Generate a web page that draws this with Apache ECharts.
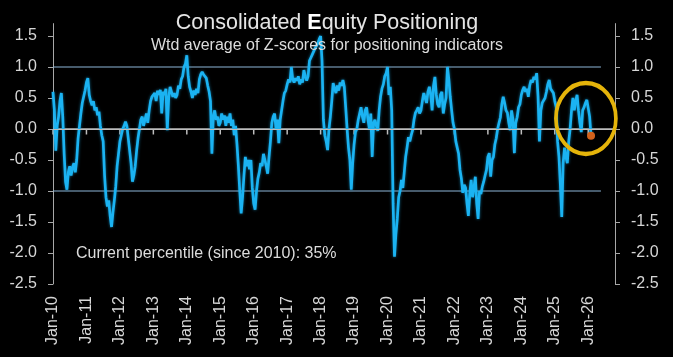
<!DOCTYPE html>
<html><head><meta charset="utf-8">
<script src="https://cdn.jsdelivr.net/npm/echarts@6/dist/echarts.min.js"></script>
<style>html,body{margin:0;padding:0;background:#000;}#c{width:673px;height:357px;}</style>
</head><body><div id="c"></div>
<script>
const titleText = '{a|Consolidated }{b|E}{a|quity Positioning}';
const subtitleText = 'Wtd average of Z-scores for positioning indicators';
const noteText = 'Current percentile (since 2010): 35%';
const tickYears = [2010,2011,2012,2013,2014,2015,2016,2017,2018,2019,2020,2021,2022,2023,2024,2025,2026];
const yTicks = [-2.5,-2,-1.5,-1,-0.5,0,0.5,1,1.5];
const bandLevels = [1, -1];
const bandStart = 2010;
const bandEnd = 2026.38;
const axisEnd = 2026.8;
const zeroLevel = 0;
const highlightCenter = [2025.93, 0.17];

// half-monthly readings of the weighted z-score, per year
const z2010 = [0.60,0.30,-0.35,0.05,0.20,0.45,0.58,0.20,-0.40,-0.85,-0.98,-0.70,-0.60,-0.75,-0.62,-0.55,-0.70,-0.50,-0.15,0.05,0.25,0.42,0.40,0.62];
const z2011 = [0.75,0.82,0.55,0.45,0.38,0.45,0.30,0.35,0.22,0.28,0.05,-0.10,-0.20,-0.75,-1.10,-1.25,-1.15,-1.40,-1.58,-1.35,-1.15,-0.93,-0.60,-0.40];
const z2012 = [-0.20,-0.10,0.00,0.05,0.12,0.05,-0.15,-0.35,-0.55,-0.85,-0.75,-0.60,-0.35,-0.15,0.00,0.15,0.20,0.05,0.15,0.25,0.10,0.30,0.45,0.52];
const z2013 = [0.50,0.58,0.45,0.62,0.55,0.63,0.25,0.60,0.55,0.65,-0.02,0.50,0.68,0.60,0.52,0.58,0.50,0.55,0.70,0.65,0.80,0.85,1.00,1.05];
const z2014 = [1.19,0.85,0.68,0.60,0.50,0.62,0.55,0.65,0.58,0.80,0.88,0.92,0.88,0.90,0.82,0.70,0.60,0.45,-0.40,0.20,0.30,0.15,0.20,0.05];
const z2015 = [0.10,0.25,0.15,0.22,0.05,0.20,0.10,0.25,0.05,0.15,-0.10,0.05,-0.25,-0.60,-1.00,-1.36,-1.10,-0.75,-0.45,-0.60,-0.50,-0.65,-0.50,-0.95];
const z2016 = [-1.20,-1.30,-1.00,-0.80,-0.70,-0.55,-0.60,-0.40,-0.50,-0.60,-0.72,-0.45,-0.20,0.10,0.20,0.25,0.00,0.15,-0.23,0.15,0.30,0.45,0.58,0.62];
const z2017 = [0.72,0.80,0.75,1.00,0.80,0.75,0.82,0.78,0.85,0.72,0.80,0.75,0.95,0.85,0.78,0.85,1.10,1.15,1.20,1.22,1.30,1.28,1.38,1.45];
const z2018 = [1.50,1.10,0.15,-0.10,-0.20,-0.34,0.00,0.20,0.45,0.74,0.65,0.58,0.70,0.62,0.75,0.70,0.79,0.68,0.35,0.00,-0.30,-0.50,-0.98,-0.55];
const z2019 = [-0.25,-0.05,0.00,0.15,0.25,0.35,0.20,0.10,0.30,0.35,0.15,0.00,0.25,-0.45,0.10,0.15,0.05,-0.03,0.30,0.52,0.65,0.72,0.85,0.90];
const z2020 = [1.00,0.55,0.68,0.30,-1.20,-2.06,-1.70,-1.45,-1.10,-1.00,-0.82,-0.95,-0.70,-0.45,-0.30,-0.13,-0.20,-0.10,-0.02,0.15,0.26,0.30,0.35,0.25];
const z2021 = [0.30,0.45,0.58,0.50,0.42,0.60,0.68,0.55,0.30,0.70,0.84,0.55,0.40,0.35,0.55,0.60,0.25,0.40,0.50,1.00,0.80,0.52,0.30,0.10];
const z2022 = [0.00,-0.20,-0.30,-0.40,-0.66,-0.80,-1.03,-0.90,-0.95,-1.20,-1.40,-1.05,-0.82,-1.10,-0.95,-0.77,-1.20,-1.45,-1.00,-1.05,-0.93,-0.85,-0.75,-0.66];
const z2023 = [-0.45,-0.39,-0.77,-0.50,-0.45,-0.25,-0.15,0.00,0.10,0.19,0.40,0.52,0.42,0.30,0.26,0.10,-0.02,0.30,0.15,-0.39,0.10,0.19,0.35,0.40];
const z2024 = [0.55,0.63,0.68,0.60,0.65,0.52,0.70,0.79,0.75,0.84,0.80,0.90,0.52,-0.20,0.30,0.42,0.40,0.50,0.60,0.72,0.79,0.65,0.68,0.58];
const z2025 = [0.45,0.35,-0.20,-0.45,-0.90,-1.42,-0.55,-0.30,-0.45,-0.55,-0.20,0.00,0.30,0.50,0.30,0.45,0.55,0.30,0.10,-0.05,0.30,0.35,0.42,0.47];
const z2026 = [0.45,0.20,-0.11];

const yearBlocks = [[2010,z2010],[2011,z2011],[2012,z2012],[2013,z2013],[2014,z2014],[2015,z2015],[2016,z2016],[2017,z2017],[2018,z2018],[2019,z2019],[2020,z2020],[2021,z2021],[2022,z2022],[2023,z2023],[2024,z2024],[2025,z2025],[2026,z2026]];
const lineData = [];
yearBlocks.forEach(([yr, vals]) => vals.forEach((v, i) => lineData.push([yr + i / 24, v])));
const lastPoint = lineData[lineData.length - 1];

const FONT = 'Liberation Sans, Arial, sans-serif';
const LABEL = '#D6D6D6';
const AXIS = '#A8A8A8';
const ZERO = '#BDBDBD';

const chart = echarts.init(document.getElementById('c'), null, {renderer: 'canvas'});
const yAxisBase = {
  type: 'value', min: -2.5, max: 1.7, interval: 0.5,
  axisLine: {show: true, onZero: false, lineStyle: {color: AXIS, width: 1}},
  axisTick: {show: true, length: 5, customValues: yTicks, lineStyle: {color: AXIS}},
  axisLabel: {customValues: yTicks, margin: 16, fontSize: 16, fontFamily: FONT, color: LABEL,
    formatter: v => v.toFixed(1)},
  splitLine: {show: false}
};
const bandSeries = bandLevels.map(l => ({
  type: 'line', data: [[bandStart, l], [bandEnd, l]], z: 1, silent: true, symbol: 'none',
  lineStyle: {color: '#8DB6D8', width: 1}
}));

chart.setOption({
  animation: false,
  backgroundColor: '#000',
  title: [
    {text: titleText, left: 322, top: 7, textAlign: 'center',
     textStyle: {fontWeight: 'normal', fontSize: 21.5, fontFamily: FONT, color: '#E4E4E4',
       rich: {a: {fontSize: 21.5, fontWeight: 'normal', fontFamily: FONT, color: '#E4E4E4'},
              b: {fontSize: 21.5, fontFamily: FONT, color: '#FFFFFF', fontWeight: 'bold'}}}},
    {text: subtitleText, left: 322, top: 33, textAlign: 'center',
     textStyle: {fontSize: 16, fontWeight: 'normal', fontFamily: FONT, color: '#DCDCDC'}},
    {text: noteText, left: 71, top: 241,
     textStyle: {fontSize: 16, fontWeight: 'normal', fontFamily: FONT, color: '#DCDCDC'}}
  ],
  grid: {left: 53, right: 58, top: 23.6, bottom: 73, containLabel: false, outerBoundsMode: 'none'},
  xAxis: {type: 'value', min: 2010, max: axisEnd, position: 'bottom',
     axisLine: {show: false, onZero: false}, axisTick: {show: false},
     axisLabel: {customValues: tickYears, rotate: 90, margin: 12, fontSize: 16, fontFamily: FONT, color: LABEL,
       formatter: v => 'Jan-' + String(Math.round(v)).slice(2)},
     splitLine: {show: false}},
  yAxis: [
    Object.assign({}, yAxisBase, {position: 'left'}),
    Object.assign({}, yAxisBase, {position: 'right'})
  ],
  series: bandSeries.concat([
    {type: 'line', data: [[bandStart, zeroLevel], [axisEnd, zeroLevel]], z: 2, silent: true, symbol: 'none',
     lineStyle: {color: ZERO, width: 1.5},
     markLine: {silent: true, symbol: 'none', label: {show: false}, animation: false,
       lineStyle: {color: ZERO, width: 1.2, type: 'solid'}, data: [{yAxis: zeroLevel}]}},
    {type: 'scatter', data: tickYears.map(y => [y, zeroLevel]), z: 2, silent: true,
     symbol: 'rect', symbolSize: [1.5, 5], symbolOffset: [0, 3],
     itemStyle: {color: ZERO, opacity: 1}},
    {type: 'line', data: lineData, z: 3, showSymbol: false, symbol: 'none',
     lineStyle: {color: '#1BB3F2', width: 2.7, shadowColor: 'rgba(27,179,242,0.6)', shadowBlur: 3}},
    {type: 'scatter', data: [lastPoint], z: 4, symbol: 'circle', symbolSize: 8,
     itemStyle: {color: '#D2621C', opacity: 1}},
    {type: 'scatter', data: [highlightCenter], z: 5, symbol: 'circle', symbolSize: [60, 71],
     itemStyle: {color: 'rgba(0,0,0,0)', borderColor: '#E5B40A', borderWidth: 4, opacity: 1}}
  ])
});
</script></body></html>
